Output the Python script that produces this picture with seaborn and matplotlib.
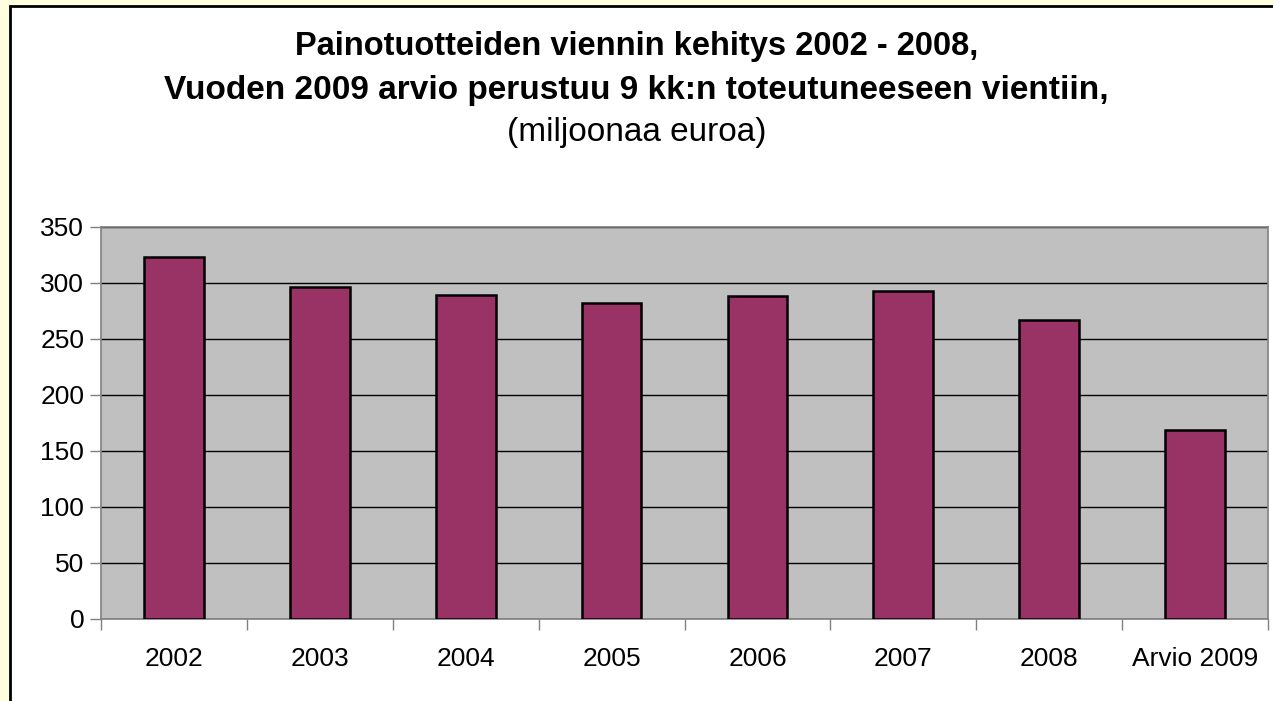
import matplotlib
matplotlib.use("Agg")
import matplotlib.pyplot as plt
import seaborn as sns
import numpy as np
import pandas as pd
from matplotlib.patches import Rectangle
from matplotlib.ticker import FixedLocator

categories = ["2002", "2003", "2004", "2005", "2006", "2007", "2008", "Arvio 2009"]
values = [323, 296, 289, 282, 288, 293, 267, 169]
yticks = [0, 50, 100, 150, 200, 250, 300, 350]

sns.set_theme(style="white")
plt.rcParams['font.family'] = ['Liberation Sans', 'DejaVu Sans']
plt.rcParams['text.color'] = 'black'

W, H = 1273, 701
fig = plt.figure(figsize=(W / 100, H / 100), dpi=100, facecolor="#FFFFE0")
# white chart area with black border (extends beyond right and bottom edges)
fig.patches.append(Rectangle((10 / W, -20 / H), (W + 20) / W, (H - 6 + 20) / H, transform=fig.transFigure,
                             facecolor="white", edgecolor="black", linewidth=2, zorder=-5))

ax = fig.add_axes([101 / W, 1 - 619 / H, (1268 - 101) / W, (619 - 227) / H])
df = pd.DataFrame({"cat": categories, "val": values})
sns.barplot(data=df, x="cat", y="val", color="#993366", edgecolor="black", linewidth=1.8,
            width=0.41, saturation=1, ax=ax, zorder=3)
ax.set_facecolor("#C0C0C0")
ax.set_xlim(-0.5, len(categories) - 0.5)
ax.set_ylim(0, 350)
ax.set_yticks(yticks)
ax.yaxis.grid(True, color="black", linewidth=1)
ax.set_axisbelow(True)
for b in ax.patches:
    b.set_zorder(3)
for s in ax.spines.values():
    s.set_color("#808080")
    s.set_linewidth(1.2)
ax.set_xlabel("")
ax.set_ylabel("")
ax.tick_params(axis="x", which="major", length=0, pad=20, labelsize=19, labelcolor="black")
ax.xaxis.set_minor_locator(FixedLocator(np.arange(-0.5, len(categories), 1.0)))
ax.tick_params(axis="x", which="minor", length=8, width=1, color="#808080", bottom=True)
ax.tick_params(axis="y", which="major", length=8, width=1, color="#808080", left=True,
               labelsize=19, labelcolor="black", pad=4)

fig.text(0.5, 1 - 47 / H, "Painotuotteiden viennin kehitys 2002 - 2008,", ha="center", va="center",
         fontsize=23.5, fontweight="bold", color="black")
fig.text(0.5, 1 - 90 / H, "Vuoden 2009 arvio perustuu 9 kk:n toteutuneeseen vientiin,", ha="center",
         va="center", fontsize=24, fontweight="bold", color="black")
fig.text(0.5, 1 - 132 / H, "(miljoonaa euroa)", ha="center", va="center", fontsize=24, color="black")

fig.savefig("out.png", dpi=100, facecolor=fig.get_facecolor())
